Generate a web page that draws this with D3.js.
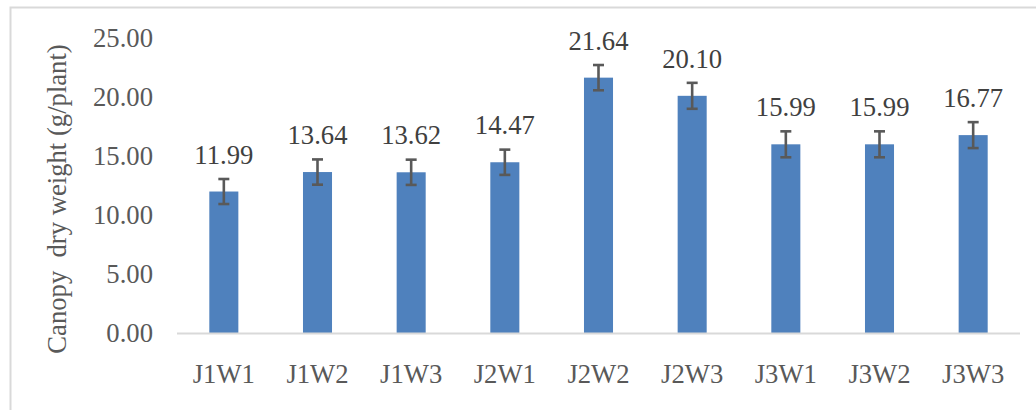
<!DOCTYPE html>
<html>
<head>
<meta charset="utf-8">
<script src="https://cdn.jsdelivr.net/npm/d3@7"></script>
<style>
  body { margin: 0; background: #fff; }
</style>
</head>
<body>
<div id="chart"></div>
<script>
const categories = ["J1W1", "J1W2", "J1W3", "J2W1", "J2W2", "J2W3", "J3W1", "J3W2", "J3W3"]
const values = [11.99, 13.64, 13.62, 14.47, 21.64, 20.10, 15.99, 15.99, 16.77]
const errors = [1.06, 1.07, 1.07, 1.07, 1.07, 1.1, 1.1, 1.1, 1.1]
const yTicks = [0, 5, 10, 15, 20, 25]
const yTitle = "Canopy\u00a0 dry weight (g/plant)"

const W = 1036, H = 410
const serif = '"Liberation Serif"'
// the serif face only gets picked at small sizes here, so draw at 20px and scale up to 20pt
const k = 26.67 / 20

const svg = d3.select('#chart').append('svg')
    .attr('width', W)
    .attr('height', H)

// chart frame (runs off the right and bottom of the picture)
svg.append('rect')
    .attr('x', 10.5).attr('y', 7.5)
    .attr('width', 1040).attr('height', 420)
    .style('fill', 'none')
    .style('stroke', '#d9d9d9')
    .style('stroke-width', 2)

/*
 * scales
 */
const xScale = d3.scaleBand()
    .domain(categories)
    .range([177, 1020])
    .paddingInner(0.69)
    .paddingOuter(0.345)

const yScale = d3.scaleLinear()
    .domain([0, 25])
    .range([333, 38])

/*
 * y axis: labels only
 */
const yAxis = d3.axisLeft(yScale)
    .tickValues(yTicks)
    .tickSize(0)
    .tickPadding(0)
    .tickFormat(d3.format('.2f'))

const gy = svg.append('g')
    .attr('transform', 'translate(153,0)')
    .call(yAxis)
gy.select('.domain').remove()
gy.selectAll('text')
    .attr('x', 0)
    .attr('dy', '0.33em')
    .attr('transform', `scale(${k})`)
    .style('font-family', serif)
    .style('font-size', '20px')
    .style('fill', '#595959')

svg.append('text')
    .attr('transform', `translate(66,199) rotate(-90) scale(${k})`)
    .attr('text-anchor', 'middle')
    .style('font-family', serif)
    .style('font-size', '20px')
    .style('fill', '#595959')
    .text(yTitle)

/*
 * bars
 */
svg.selectAll('.bar')
    .data(values)
    .enter().append('rect')
    .attr('class', 'bar')
    .attr('x', (d, i) => xScale(categories[i]))
    .attr('width', xScale.bandwidth())
    .attr('y', d => yScale(d))
    .attr('height', d => yScale(0) - yScale(d))
    .style('fill', '#4f81bd')

// baseline
svg.append('line')
    .attr('x1', 177).attr('x2', 1020)
    .attr('y1', yScale(0) + 0.5).attr('y2', yScale(0) + 0.5)
    .style('stroke', '#d9d9d9')
    .style('stroke-width', 2)

/*
 * x axis labels
 */
const xAxis = d3.axisBottom(xScale)
    .tickSize(0)
    .tickPadding(0)

const gx = svg.append('g')
    .attr('transform', `translate(0, ${yScale(0)})`)
    .call(xAxis)
gx.select('.domain').remove()
gx.selectAll('text')
    .attr('dy', null)
    .attr('y', 0)
    .attr('transform', `translate(0,50) scale(${k})`)
    .style('font-family', serif)
    .style('font-size', '20px')
    .style('fill', '#595959')

/*
 * error bars
 */
const cap = 5.5
const eb = svg.append('g')
    .style('stroke', '#595959')
    .style('stroke-width', 2.6)

values.forEach(function(v, i) {
    const cx = xScale(categories[i]) + xScale.bandwidth() / 2
    const y1 = yScale(v + errors[i])
    const y2 = yScale(v - errors[i])
    eb.append('line').attr('x1', cx).attr('x2', cx).attr('y1', y1).attr('y2', y2)
    eb.append('line').attr('x1', cx - cap).attr('x2', cx + cap).attr('y1', y1).attr('y2', y1)
    eb.append('line').attr('x1', cx - cap).attr('x2', cx + cap).attr('y1', y2).attr('y2', y2)
})

/*
 * value labels
 */
svg.selectAll('.val')
    .data(values)
    .enter().append('text')
    .attr('class', 'val')
    .attr('transform', (d, i) =>
        `translate(${xScale(categories[i]) + xScale.bandwidth() / 2},${yScale(d) - 28}) scale(${k})`)
    .attr('text-anchor', 'middle')
    .style('font-family', serif)
    .style('font-size', '20px')
    .style('fill', '#404040')
    .text(d => d3.format('.2f')(d))
</script>
</body>
</html>
